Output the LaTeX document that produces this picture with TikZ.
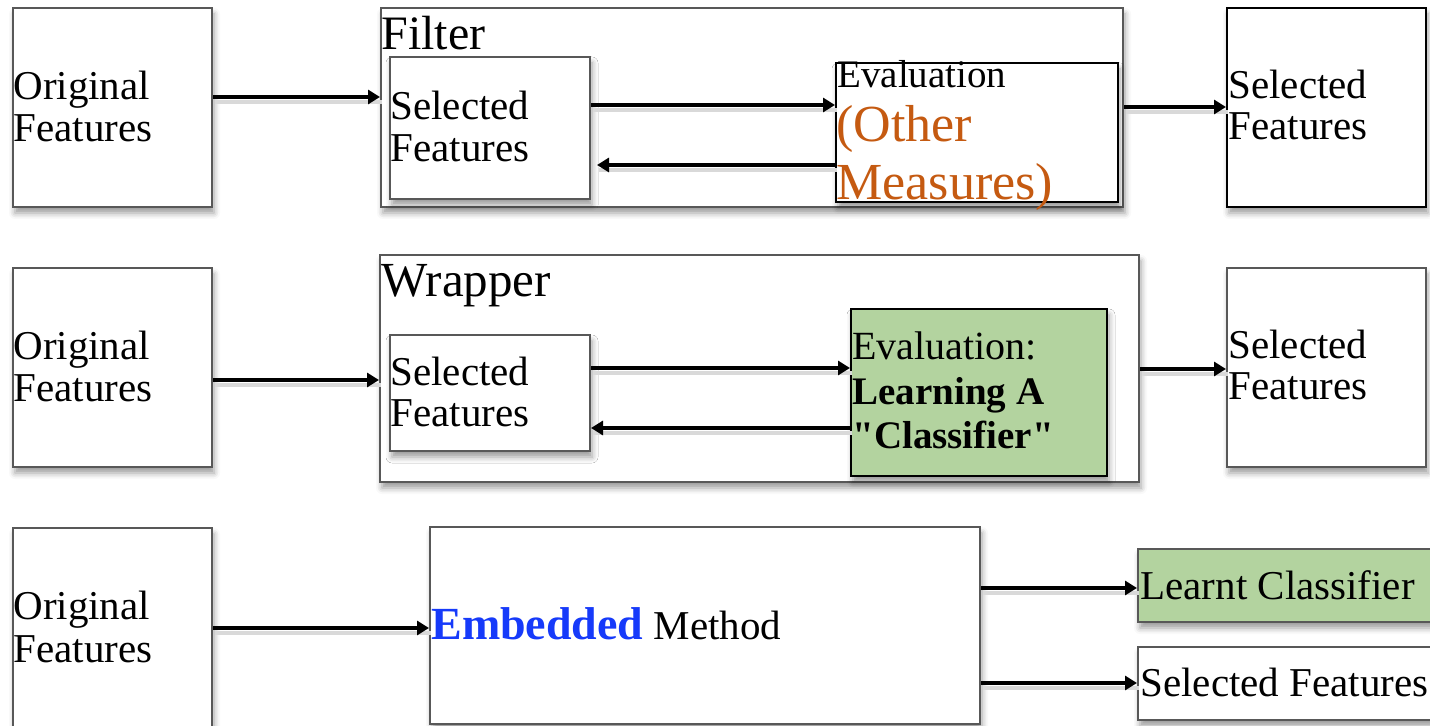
\documentclass[tikz,border=0pt]{standalone}
\usepackage{fontspec}
\setmainfont{Liberation Serif}[Ligatures=TeXOff]
\usetikzlibrary{fit,shadows.blur,arrows.meta}
\definecolor{edgegrey}{RGB}{88,88,88}
\definecolor{evalgreen}{RGB}{179,211,159}
\definecolor{measureorange}{RGB}{197,90,17}
\definecolor{embedblue}{RGB}{22,58,250}
\begin{document}
\begin{tikzpicture}[x=0.5pt,y=-0.5pt,
  box/.style={draw=edgegrey, line width=1pt, fill=white, inner sep=0pt,
    blur shadow={shadow xshift=1pt, shadow yshift=-3pt,
      shadow blur radius=3pt, shadow opacity=40}},
  darkbox/.style={box, draw=black},
  greenbox/.style={box, draw=black, fill=evalgreen},
  txt/.style={anchor=base west, inner sep=0pt, yshift=-1pt,
    font=\fontsize{20.5}{24}\selectfont},
  title/.style={txt, font=\fontsize{24}{28}\selectfont},
  arr/.style={-{Triangle[length=6pt,width=7pt]}, line width=1.8pt,
    preaction={draw=black!15, line width=2.4pt, arrows=-,
      transform canvas={xshift=0.8pt, yshift=-2.5pt}}},
]
\path[use as bounding box, clip] (0,0) rectangle (1430,726);

% ---------- Filter ----------
\node[box, fit={(13,8)(212,207)}] (orig1) {};
\node[box, fit={(381,8)(1123,207)}] (filter) {};
\node[box, fit={(390,57)(590,199)}] (sel1) {};
\node[darkbox, fit={(836,63)(1118,202)}] (eval1) {};
\node[darkbox, fit={(1227,8)(1426,207)}] (out1) {};

\node[txt] (o1a) at (13,98) {Original};
\node[txt] (o1b) at (13,140) {Features};
\node[title] (filterlbl) at (381,48) {Filter};
\node[txt] (s1a) at (390,118) {Selected};
\node[txt] (s1b) at (390,160) {Features};
\node[txt, font=\fontsize{19.5}{23}\selectfont] (e1a) at (837,86) {Evaluation};
\node[txt, font=\fontsize{26}{30}\selectfont, text=measureorange] (e1b) at (836,140) {(Other};
\node[txt, font=\fontsize{26}{30}\selectfont, text=measureorange] (e1c) at (836,198) {Measures)};
\node[txt] (out1a) at (1228,97) {Selected};
\node[txt] (out1b) at (1228,138) {Features};

\draw[arr] (orig1.east |- 0,97) -- (filter.west |- 0,97);
\draw[arr] (sel1.east |- 0,105) -- (eval1.west |- 0,105);
\draw[arr, shorten >=3pt] (eval1.west |- 0,165) -- (sel1.east |- 0,165);
\draw[arr] (filter.east |- 0,107) -- (out1.west |- 0,107);

% ---------- Wrapper ----------
\node[box, fit={(13,268)(212,467)}] (orig2) {};
\node[box, fit={(380,255)(1139,482)}] (wrapper) {};
\node[box, fit={(390,335)(590,451)}] (sel2) {};
\node[greenbox, fit={(851,309)(1107,476)}] (eval2) {};
\node[box, fit={(1227,268)(1426,467)}] (out2) {};

\node[txt] (o2a) at (13,358) {Original};
\node[txt] (o2b) at (13,400) {Features};
\node[title, font=\fontsize{24.5}{28}\selectfont] (wrapperlbl) at (381,295) {Wrapper};
\node[txt] (s2a) at (390,384) {Selected};
\node[txt] (s2b) at (390,425) {Features};
\node[txt, font=\fontsize{20}{24}\selectfont] (e2a) at (852,358) {Evaluation:};
\node[txt, font=\bfseries\fontsize{19.5}{24}\selectfont] (e2b) at (852,403) {Learning A};
\node[txt, font=\bfseries\fontsize{19.5}{24}\selectfont] (e2c) at (852,447) {"Classifier"};
\node[txt] (out2a) at (1228,357) {Selected};
\node[txt] (out2b) at (1228,398) {Features};

\draw[arr] (orig2.east |- 0,380) -- (wrapper.west |- 0,380);
\draw[arr] (sel2.east |- 0,368) -- (eval2.west |- 0,368);
\draw[arr] (eval2.west |- 0,428) -- (sel2.east |- 0,428);
\draw[arr] (wrapper.east |- 0,369) -- (out2.west |- 0,369);

% ---------- Embedded ----------
\node[box, fit={(13,528)(212,740)}] (orig3) {};
\node[box, fit={(430,527)(980,724)}] (embedded) {};
\node[greenbox, draw=edgegrey, fit={(1138,549)(1445,622)}] (learnt) {};
\node[box, fit={(1138,647)(1445,720)}] (sel3) {};

\node[txt] (o3a) at (13,618) {Original};
\node[txt] (o3b) at (13,660) {Features};
\node[txt] (emb) at (431,638)
  {{\color{embedblue}\bfseries\fontsize{23}{28}\selectfont Embedded} Method};
\node[txt] (lc) at (1140,598) {Learnt Classifier};
\node[txt] (sf) at (1140,695) {Selected Features};

\draw[arr] (orig3.east |- 0,628) -- (embedded.west |- 0,628);
\draw[arr] (embedded.east |- 0,588) -- (learnt.west |- 0,588);
\draw[arr] (embedded.east |- 0,683) -- (sel3.west |- 0,683);
\end{tikzpicture}
\end{document}
